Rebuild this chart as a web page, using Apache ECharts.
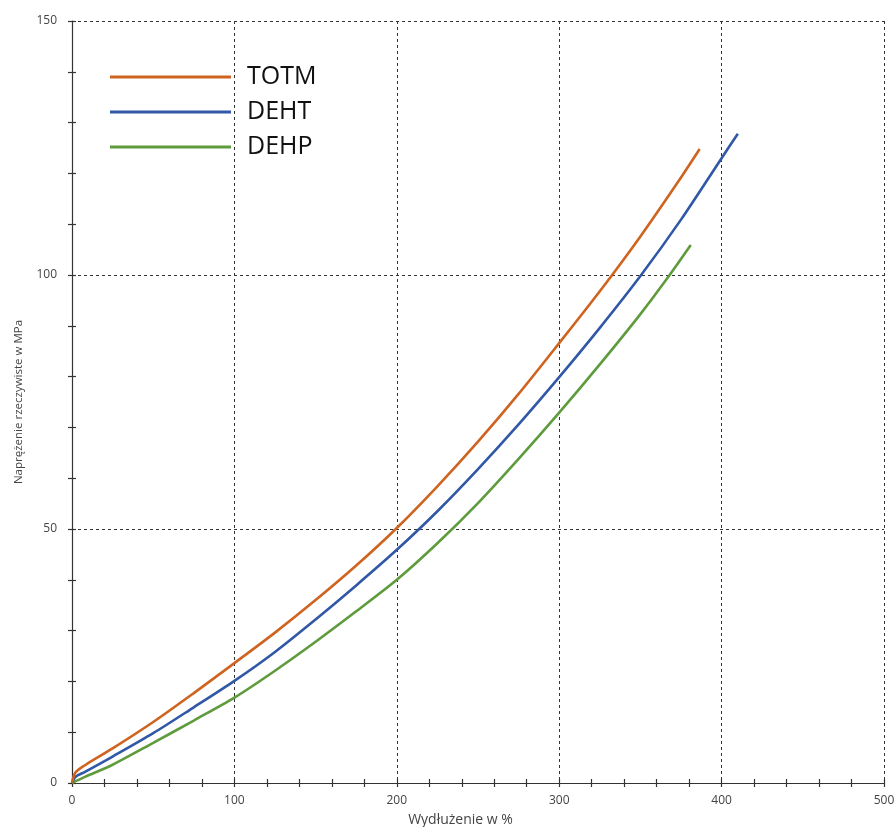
<!DOCTYPE html>
<html>
<head>
<meta charset="utf-8">
<title>Naprężenie rzeczywiste</title>
<script src="https://cdn.jsdelivr.net/npm/echarts@6/dist/echarts.min.js"></script>
<style>
  html, body { margin: 0; padding: 0; background: #fff; }
  #chart { width: 896px; height: 827px; }
</style>
</head>
<body>
<div id="chart"></div>
<script>
// Stress–strain curves for PVC with three plasticizers
const seriesNames = ['TOTM', 'DEHT', 'DEHP'];
const seriesColors = ['#CF6420', '#3158A6', '#5E9B3D'];

// elongation [%] and true stress [MPa]
const totmStrain = [0, 2, 8, 25, 50, 75, 100, 125, 150, 175, 200, 225, 250, 275, 300, 325, 350, 375, 386.5];
const totmStress = [0, 2.0, 3.5, 6.8, 12.0, 17.7, 23.6, 29.6, 36.0, 42.8, 50.2, 58.4, 67.2, 76.6, 86.6, 96.8, 107.6, 119.2, 124.8];

const dehtStrain = [0, 2, 8, 25, 50, 75, 100, 125, 150, 175, 200, 225, 250, 275, 300, 325, 350, 375, 400, 410];
const dehtStress = [0, 1.2, 2.2, 5.2, 9.8, 14.9, 20.1, 25.8, 32.2, 38.9, 45.9, 53.5, 61.8, 70.6, 79.9, 89.6, 99.8, 110.9, 123.0, 127.8];

const dehpStrain = [0, 8, 25, 50, 75, 100, 125, 150, 175, 200, 225, 250, 275, 300, 325, 350, 368, 381];
const dehpStress = [0, 1.2, 3.6, 7.9, 12.3, 16.8, 22.1, 27.8, 33.8, 40.0, 47.2, 55.1, 63.8, 72.9, 82.4, 92.3, 100, 105.9];

const xTicks = [0, 100, 200, 300, 400, 500];
const yTicks = [0, 50, 100, 150];

const pairs = (xs, ys) => xs.map((x, i) => [x, ys[i]]);
const curves = [
  pairs(totmStrain, totmStress),
  pairs(dehtStrain, dehtStress),
  pairs(dehpStrain, dehpStress)
];

const axisColor = '#333';
const labelColor = '#444';
const baseFont = '"Open Sans", "DejaVu Sans", sans-serif';

function valueAxis(ticks, extra) {
  return Object.assign({
    type: 'value',
    min: ticks[0],
    max: ticks[ticks.length - 1],
    interval: ticks[1] - ticks[0]
  }, extra);
}

// outer axes: line, labels, outward ticks, grid lines
const xMain = valueAxis(xTicks, {
  position: 'bottom',
  name: 'Wydłużenie w %',
  nameLocation: 'middle',
  nameGap: 30,
  nameTextStyle: { color: labelColor, fontSize: 14, fontFamily: baseFont, padding: [0, 35, 0, 0] },
  axisLine: { show: true, onZero: false, lineStyle: { color: axisColor, width: 1.2 } },
  axisTick: { show: true, inside: false, length: 4, lineStyle: { color: axisColor, width: 1.2 } },
  minorTick: { show: true, splitNumber: 5, length: 4, lineStyle: { color: axisColor, width: 1.2 } },
  axisLabel: { color: labelColor, fontSize: 12, fontFamily: baseFont, margin: 12 },
  splitLine: { show: true, lineStyle: { color: '#333', type: [3, 3], width: 1 } },
  minorSplitLine: { show: false }
});
const yMain = valueAxis(yTicks, {
  position: 'left',
  name: 'Naprężenie rzeczywiste w MPa',
  nameLocation: 'middle',
  nameGap: 47,
  nameRotate: 90,
  nameTextStyle: { color: labelColor, fontSize: 11.5, fontFamily: baseFont },
  axisLine: { show: true, onZero: false, lineStyle: { color: axisColor, width: 1.2 } },
  axisTick: { show: true, inside: false, length: 4, lineStyle: { color: axisColor, width: 1.2 } },
  minorTick: { show: true, splitNumber: 5, length: 4, lineStyle: { color: axisColor, width: 1.2 } },
  axisLabel: { color: labelColor, fontSize: 12, fontFamily: baseFont, margin: 15 },
  splitLine: { show: true, lineStyle: { color: '#333', type: [3, 3], width: 1 } },
  minorSplitLine: { show: false }
});

// inner twin axes: only inward ticks, so ticks cross the axis lines
const innerCommon = {
  axisLine: { show: false },
  axisLabel: { show: false },
  splitLine: { show: false },
  axisTick: { show: true, inside: true, length: 4, lineStyle: { color: axisColor, width: 1.2 } },
  minorTick: { show: true, splitNumber: 5, length: 4, lineStyle: { color: axisColor, width: 1.2 } }
};
const xInner = valueAxis(xTicks, Object.assign({ position: 'bottom' }, innerCommon));
const yInner = valueAxis(yTicks, Object.assign({ position: 'left' }, innerCommon));

const chart = echarts.init(document.getElementById('chart'), null, { renderer: 'canvas' });

chart.setOption({
  backgroundColor: '#ffffff',
  animation: false,
  grid: { left: 72, right: 12, top: 21, bottom: 44, containLabel: false, outerBoundsMode: 'none' },
  legend: {
    orient: 'vertical',
    left: 110,
    top: 62,
    padding: 0,
    icon: 'rect',
    itemWidth: 121,
    itemHeight: 3,
    itemGap: 5,
    data: seriesNames,
    textStyle: {
      color: '#111',
      fontSize: 25,
      lineHeight: 30,
      fontFamily: baseFont,
      padding: [0, 0, 0, 11]
    }
  },
  xAxis: [xMain, xInner],
  yAxis: [yMain, yInner],
  series: seriesNames.map((name, i) => ({
    name: name,
    type: 'line',
    xAxisIndex: 0,
    yAxisIndex: 0,
    data: curves[i],
    smooth: 0.3,
    showSymbol: false,
    symbol: 'none',
    color: seriesColors[i],
    lineStyle: { color: seriesColors[i], width: 2.6 },
    z: 3 - i
  }))
});
</script>
</body>
</html>
